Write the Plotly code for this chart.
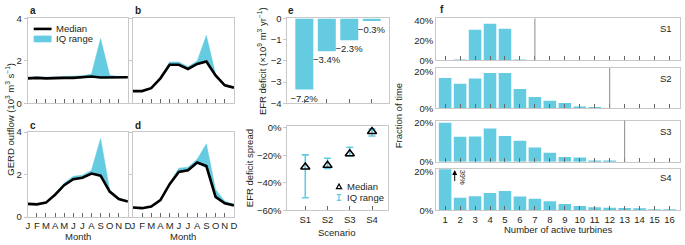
import plotly.graph_objects as go

# ---------------- data ----------------
months = ["J", "F", "M", "A", "M", "J", "J", "A", "S", "O", "N", "D"]

s1_median = [1.18, 1.20, 1.18, 1.20, 1.20, 1.20, 1.22, 1.27, 1.22, 1.23, 1.23, 1.23]
s1_q25 = [1.15, 1.17, 1.15, 1.17, 1.17, 1.17, 1.19, 1.22, 1.19, 1.20, 1.20, 1.20]
s1_q75 = [1.23, 1.25, 1.23, 1.25, 1.25, 1.26, 1.30, 1.38, 3.05, 1.33, 1.27, 1.27]

s2_median = [0.58, 0.58, 0.72, 1.18, 1.82, 1.82, 1.62, 1.86, 1.97, 1.32, 0.85, 0.74]
s2_q25 = [0.56, 0.56, 0.70, 1.15, 1.78, 1.78, 1.58, 1.82, 1.93, 1.28, 0.82, 0.72]
s2_q75 = [0.60, 0.60, 0.75, 1.24, 1.95, 1.95, 1.72, 2.00, 3.20, 1.38, 0.90, 0.78]

s3_median = [0.62, 0.60, 0.68, 1.05, 1.50, 1.78, 1.85, 2.05, 1.95, 1.20, 0.85, 0.73]
s3_q25 = [0.60, 0.58, 0.66, 1.02, 1.46, 1.74, 1.81, 2.01, 1.90, 1.15, 0.82, 0.71]
s3_q75 = [0.64, 0.62, 0.70, 1.08, 1.60, 1.92, 1.97, 2.20, 3.70, 1.28, 0.90, 0.76]

s4_median = [0.45, 0.42, 0.50, 0.80, 1.55, 2.12, 2.20, 2.57, 2.40, 0.95, 0.65, 0.55]
s4_q25 = [0.43, 0.40, 0.48, 0.77, 1.50, 2.08, 2.16, 2.52, 2.30, 0.90, 0.62, 0.53]
s4_q75 = [0.47, 0.44, 0.52, 0.83, 1.60, 2.30, 2.35, 2.72, 3.45, 1.30, 0.75, 0.60]

scenarios = ["S1", "S2", "S3", "S4"]
efr_deficit = [-3.35, -1.55, -1.03, -0.12]
efr_deficit_pct = ["\u22127.2%", "\u22123.4%", "\u22122.3%", "\u22120.3%"]
spread_median = [-28.4, -27.2, -18.7, -2.5]
spread_q25 = [-50.8, -29.5, -20.3, -5.8]
spread_q75 = [-19.6, -22.0, -14.0, -0.7]

turbines = list(range(1, 17))
frac_s1 = [0, 0.5, 31, 37, 32, 0.3, 0, 0, 0, 0, 0, 0, 0, 0, 0, 0]
frac_s2 = [16.3, 13.2, 16.0, 19.1, 19.0, 10.4, 6.1, 4.0, 2.8, 0.9, 0.2, 0, 0, 0, 0, 0]
frac_s3 = [20.0, 12.8, 13.0, 17.1, 13.2, 10.7, 7.3, 4.6, 2.4, 2.1, 0.3, 0.15, 0, 0, 0, 0]
frac_s4 = [39.0, 6.5, 7.3, 8.9, 9.9, 7.2, 6.0, 4.7, 3.3, 2.3, 1.6, 1.3, 1.2, 1.1, 0.3, 0.3]
installed_turbines = [7, 12, 13, None]
s4_first_label = "39%"

# ---------------- style ----------------
W, H = 685, 245
CYAN = "#64CBE0"
FRAME = "#c8c8c8"
TICK = "#666666"
TXT = "#231f20"
FONT = "Liberation Sans, Arial, sans-serif"


def xd(l, r):
    return [l / W, r / W]


def yd(t, b):
    return [1 - b / H, 1 - t / H]


def px(x):
    return x / W


def py(y):
    return 1 - y / H


fig = go.Figure()
layout = {}
annotations = []
shapes = []


def ann(x, y, text, size=9.5, xanchor="center", yanchor="middle", angle=0, bold=False, color=TXT):
    annotations.append(dict(
        xref="paper", yref="paper", x=px(x), y=py(y), text=("<b>%s</b>" % text) if bold else text,
        showarrow=False, xanchor=xanchor, yanchor=yanchor, textangle=angle,
        font=dict(size=size, color=color, family=FONT)))


# ---------- panels a-d ----------
month_idx = list(range(len(months)))
monthly = [(s1_median, s1_q25, s1_q75), (s2_median, s2_q25, s2_q75),
           (s3_median, s3_q25, s3_q75), (s4_median, s4_q25, s4_q75)]
boxes = [(26, 127, 13, 102), (132, 234, 13, 102), (26, 127, 132, 221), (132, 234, 132, 221)]
for i, ((med, lo, hi), (l, r, t, b)) in enumerate(zip(monthly, boxes)):
    n = i + 1
    xa = "x" if n == 1 else "x%d" % n
    ya = "y" if n == 1 else "y%d" % n
    fig.add_trace(go.Scatter(x=month_idx, y=lo, mode="lines", line=dict(width=0, color=CYAN),
                             xaxis=xa, yaxis=ya, showlegend=False, hoverinfo="skip"))
    fig.add_trace(go.Scatter(x=month_idx, y=hi, mode="lines", fill="tonexty", fillcolor=CYAN,
                             line=dict(width=0.5, color=CYAN), xaxis=xa, yaxis=ya, showlegend=False))
    fig.add_trace(go.Scatter(x=month_idx, y=med, mode="lines", line=dict(width=2.6, color="black"),
                             xaxis=xa, yaxis=ya, showlegend=False))
    bottom = i >= 2
    left = i % 2 == 0
    layout["xaxis" if n == 1 else "xaxis%d" % n] = dict(
        domain=xd(l, r), anchor=ya, range=[0, 11], tickvals=month_idx,
        ticktext=months, showticklabels=bottom, ticks="inside", ticklen=4, tickcolor=TICK,
        tickangle=0, showline=True, linecolor=FRAME, linewidth=1, mirror=True, showgrid=False,
        zeroline=False, tickfont=dict(size=9.5, color=TXT, family=FONT))
    layout["yaxis" if n == 1 else "yaxis%d" % n] = dict(
        domain=yd(t, b), anchor=xa, range=[0, 4], tickvals=[0, 2, 4], showticklabels=left,
        ticks="outside", ticklen=3, tickcolor=FRAME, showline=True, linecolor=FRAME, linewidth=1,
        mirror=True, showgrid=False, zeroline=False, tickfont=dict(size=9.5, color=TXT, family=FONT))

# ---------- panel e top ----------
fig.add_trace(go.Bar(x=scenarios, y=efr_deficit, text=efr_deficit_pct, textposition="outside",
                     constraintext="none",
                     textfont=dict(size=9.5, color=TXT, family=FONT), cliponaxis=False,
                     marker=dict(color=CYAN, line=dict(width=0)), width=0.8,
                     xaxis="x5", yaxis="y5", showlegend=False))
layout["xaxis5"] = dict(domain=xd(288, 390), anchor="y5", range=[-0.75, 3.75], showticklabels=False,
                        ticks="inside", ticklen=4, tickcolor=TICK, showline=True, linecolor=FRAME,
                        mirror=True, showgrid=False, zeroline=False)
layout["yaxis5"] = dict(domain=yd(13, 102), anchor="x5", range=[-4, 0], tickvals=[0, -1, -2, -3, -4],
                        ticktext=["0", "\u22121", "\u22122", "\u22123", "\u22124"],
                        ticks="outside", ticklen=3, tickcolor=FRAME, showline=True, linecolor=FRAME,
                        mirror=True, showgrid=False, zeroline=False,
                        tickfont=dict(size=9.5, color=TXT, family=FONT))

# ---------- panel e bottom ----------
err_plus = [q - m for q, m in zip(spread_q75, spread_median)]
err_minus = [m - q for q, m in zip(spread_q25, spread_median)]
fig.add_trace(go.Scatter(x=scenarios, y=spread_median, mode="markers",
                         marker=dict(symbol="line-ns-open", size=1, color=CYAN, line=dict(width=1.5, color=CYAN)),
                         error_y=dict(type="data", symmetric=False, array=err_plus, arrayminus=err_minus,
                                      color=CYAN, thickness=1.6, width=3.5),
                         xaxis="x6", yaxis="y6", showlegend=False))
fig.add_trace(go.Scatter(x=scenarios, y=spread_median, mode="markers",
                         marker=dict(symbol="triangle-up-open", size=8, color="black", line=dict(width=1.5, color="black")),
                         xaxis="x6", yaxis="y6", showlegend=False))
layout["xaxis6"] = dict(domain=xd(288, 389), anchor="y6", range=[-0.8, 3.7], ticks="inside", ticklen=4,
                        tickcolor=TICK, showline=True, linecolor=FRAME, mirror=True, showgrid=False,
                        zeroline=False, tickfont=dict(size=9.5, color=TXT, family=FONT))
layout["yaxis6"] = dict(domain=yd(126, 214), anchor="x6", range=[-60, 1.2], tickvals=[0, -20, -40, -60],
                        ticktext=["0%", "\u221220%", "\u221240%", "\u221260%"],
                        ticks="outside", ticklen=3, tickcolor=FRAME, showline=True, linecolor=FRAME,
                        mirror=True, showgrid=False, zeroline=False,
                        tickfont=dict(size=9.5, color=TXT, family=FONT))

# ---------- panel f ----------
fracs = [frac_s1, frac_s2, frac_s3, frac_s4]
fboxes = [(13, 57), (65, 107), (120, 163), (171, 214)]
franges = [[0, 42.3], [0, 21.7], [0, 21.1], [0, 21.1]]
fticks = [[0, 20, 40], [0, 20], [0, 20], [0, 20]]
label_y = [24, 76, 131, 180]
for k, (frac, inst, (t, b), rng, tv) in enumerate(zip(fracs, installed_turbines, fboxes, franges, fticks)):
    n = 7 + k
    xa, ya = "x%d" % n, "y%d" % n
    fig.add_trace(go.Bar(x=turbines, y=frac, marker=dict(color=CYAN, line=dict(width=0)), width=0.84,
                         xaxis=xa, yaxis=ya, showlegend=False))
    if inst is not None:
        shapes.append(dict(type="line", xref=xa, yref=ya + " domain", x0=inst, x1=inst, y0=0, y1=1,
                           line=dict(color="#8a8a8a", width=1)))
    tvt = [v for v in tv if v <= rng[1]]
    layout["xaxis%d" % n] = dict(domain=xd(438, 684), anchor=ya, range=[0.4, 16.7], tickvals=turbines,
                                 showticklabels=(k == 3), ticks="inside", ticklen=4, tickcolor=TICK,
                                 tickangle=0, showline=True, linecolor=FRAME, linewidth=1.2, mirror=True,
                                 showgrid=False, zeroline=False, tickfont=dict(size=9.5, color=TXT, family=FONT))
    layout["yaxis%d" % n] = dict(domain=yd(t, b), anchor=xa, range=rng, tickvals=tvt,
                                 ticktext=["%d%%" % v for v in tvt], ticks="",
                                 showline=True, linecolor=FRAME, linewidth=1.2, mirror=True, showgrid=False,
                                 zeroline=False, tickfont=dict(size=9.5, color=TXT, family=FONT))
    ann(670, label_y[k], scenarios[k], size=9.5)

# arrow + label for clipped S4 bar
annotations.append(dict(xref="x10", yref="y10", x=1.64, y=20.8, ax=1.64, ay=14.3, axref="x10", ayref="y10",
                        text="", showarrow=True, arrowhead=2, arrowsize=1, arrowwidth=1, arrowcolor="black"))
annotations.append(dict(xref="x10", yref="y10", x=2.13, y=17.3, text=s4_first_label, showarrow=False,
                        textangle=90, font=dict(size=7.5, color=TXT, family=FONT)))

# ---------- panel letters ----------
ann(26, 5, "a", size=10, xanchor="left", bold=True)
ann(132, 5, "b", size=10, xanchor="left", bold=True)
ann(26, 125, "c", size=10, xanchor="left", bold=True)
ann(132, 125, "d", size=10, xanchor="left", bold=True)
ann(287, 5, "e", size=10, xanchor="left", bold=True)
ann(440, 4, "f", size=10, xanchor="left", bold=True)

# ---------- axis titles ----------
ann(8, 118, "GERD outflow (10<sup>3</sup> m<sup>3</sup> s<sup>\u22121</sup>)", size=9.5, angle=-90)
ann(76.5, 241, "Month", size=9.5)
ann(183, 241, "Month", size=9.5)
ann(263, 58, "EFR deficit (\u00d710<sup>9</sup> m<sup>3</sup> yr<sup>\u22121</sup>)", size=9.5, angle=-90)
ann(250, 170, "EFR deficit spread", size=9.5, angle=-90)
ann(338, 237, "Scenario", size=9.5)
ann(400, 115, "Fraction of time", size=9.5, angle=-90)
ann(561, 234, "Number of active turbines", size=9.5)

# ---------- legends (drawn manually) ----------
shapes.append(dict(type="line", xref="paper", yref="paper", x0=px(32), x1=px(50), y0=py(24), y1=py(24),
                   line=dict(color="black", width=2.6)))
shapes.append(dict(type="rect", xref="paper", yref="paper", x0=px(32), x1=px(50), y0=py(31), y1=py(38),
                   fillcolor=CYAN, line=dict(width=0)))
ann(52, 24, "Median", size=9.5, xanchor="left")
ann(52, 34.5, "IQ range", size=9.5, xanchor="left")

tx, tyy = 340, 189
shapes.append(dict(type="path", xref="paper", yref="paper",
                   path="M %f,%f L %f,%f L %f,%f Z" % (px(tx - 2.6), py(tyy + 2.2), px(tx + 2.6), py(tyy + 2.2), px(tx), py(tyy - 2.6)),
                   line=dict(color="black", width=1.2)))
ex, ey = 340, 200.5
shapes.append(dict(type="path", xref="paper", yref="paper",
                   path="M %f,%f L %f,%f M %f,%f L %f,%f M %f,%f L %f,%f" % (
                       px(ex), py(ey - 3), px(ex), py(ey + 3),
                       px(ex - 2.2), py(ey - 3), px(ex + 2.2), py(ey - 3),
                       px(ex - 2.2), py(ey + 3), px(ex + 2.2), py(ey + 3)),
                   line=dict(color=CYAN, width=1.3)))
ann(346, 189, "Median", size=9.5, xanchor="left")
ann(346, 200.5, "IQ range", size=9.5, xanchor="left")

fig.update_layout(
    width=W, height=H, margin=dict(l=0, r=0, t=0, b=0),
    paper_bgcolor="white", plot_bgcolor="white", showlegend=False,
    font=dict(family=FONT, size=9.5, color=TXT),
    annotations=annotations, shapes=shapes, **layout)

fig.write_html("out.html", config={"displayModeBar": False},
               post_script="document.body.style.margin='0';document.body.style.overflow='hidden';")
